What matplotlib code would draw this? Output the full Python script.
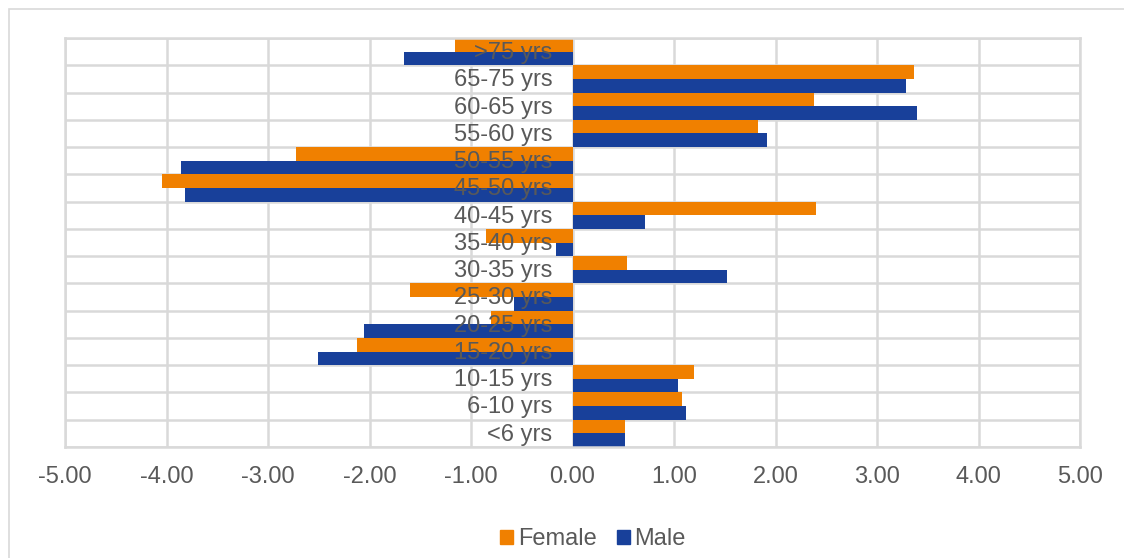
import matplotlib.pyplot as plt
from matplotlib.patches import Patch, Rectangle
import numpy as np

# --- DATA ---
age_groups = ['<6 yrs', '6-10 yrs', '10-15 yrs', '15-20 yrs', '20-25 yrs',
              '25-30 yrs', '30-35 yrs', '35-40 yrs', '40-45 yrs', '45-50 yrs',
              '50-55 yrs', '55-60 yrs', '60-65 yrs', '65-75 yrs', '>75 yrs']
female = [0.52, 1.08, 1.20, -2.12, -0.80, -1.60, 0.54, -0.85, 2.40, -4.04,
          -2.72, 1.83, 2.38, 3.36, -1.16]
male = [0.52, 1.12, 1.04, -2.51, -2.05, -0.58, 1.52, -0.16, 0.71, -3.82,
        -3.86, 1.92, 3.39, 3.29, -1.66]
x_ticks = [-5, -4, -3, -2, -1, 0, 1, 2, 3, 4, 5]

orange = '#F08000'
blue = '#18409A'
grey_text = '#595959'
grid_col = '#D9D9D9'

plt.rcParams['font.family'] = ['Liberation Sans', 'DejaVu Sans']

fig = plt.figure(figsize=(11.24, 5.58), dpi=100)
W, H = 1124, 558
ax = fig.add_axes([65 / W, 1 - 447 / H, (1080 - 65) / W, (447 - 38) / H])

# outer chart border (right and bottom edges fall outside the picture)
fig.patches.append(Rectangle((9 / W, -0.05), 1.1, 1 - 9 / H + 0.05,
                             transform=fig.transFigure, fill=False,
                             edgecolor=grid_col, linewidth=1.2))

y = np.arange(len(age_groups))
ax.barh(y + 0.25, female, height=0.5, color=orange, zorder=2)
ax.barh(y - 0.25, male, height=0.5, color=blue, zorder=2)

for i, lab in enumerate(age_groups):
    ax.annotate(lab, xy=(0, i), xytext=(-14.5, -1), textcoords='offset points',
                ha='right', va='center', fontsize=17, color=grey_text, zorder=3)

ax.set_xlim(-5, 5)
ax.set_ylim(-0.5, len(age_groups) - 0.5)
ax.set_xticks(x_ticks)
ax.set_xticklabels([f'{v:.2f}' for v in x_ticks], fontsize=17, color=grey_text)
ax.set_yticks([])
ax.set_yticks(np.arange(len(age_groups) + 1) - 0.5, minor=True)
ax.tick_params(axis='x', length=0, pad=14)
ax.tick_params(axis='y', which='minor', length=0)
ax.grid(True, axis='x', color=grid_col, linewidth=1.8, zorder=0)
ax.grid(True, axis='y', which='minor', color=grid_col, linewidth=1.8, zorder=0)
ax.set_axisbelow(True)
for s in ax.spines.values():
    s.set_color(grid_col)
    s.set_linewidth(1.8)

handles = [Patch(color=orange, label='Female'), Patch(color=blue, label='Male')]
fig.legend(handles=handles, loc='center', bbox_to_anchor=(593 / W, 1 - 539 / H),
           ncol=2, frameon=False, fontsize=17, labelcolor=grey_text,
           handlelength=0.55, handleheight=0.55, handletextpad=0.2,
           columnspacing=0.85, borderaxespad=0, borderpad=0)

fig.savefig('out.png', dpi=100)
